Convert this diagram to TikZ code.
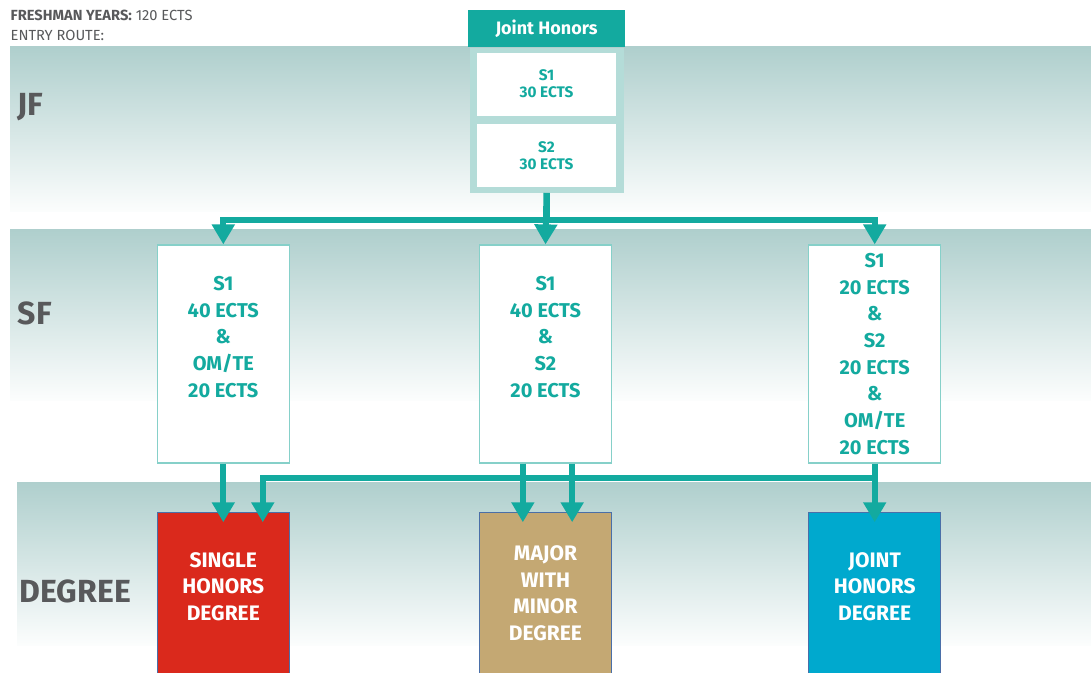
\documentclass[tikz,border=0pt]{standalone}
\usepackage{fontspec}
\setmainfont{Fira Sans}
\usepackage{tikz}
\usepackage{xcolor}
\usetikzlibrary{positioning,arrows.meta}
\definecolor{verde}{HTML}{13AA9F}
\definecolor{verdeclaro}{HTML}{B4DCD8}
\definecolor{borda}{HTML}{86D0C9}
\definecolor{faixa}{HTML}{AFCFCD}
\definecolor{cinza}{HTML}{58595B}
\definecolor{vermelho}{HTML}{DA291C}
\definecolor{areia}{HTML}{C4A873}
\definecolor{azul}{HTML}{00A9CE}
\definecolor{contorno}{HTML}{4A6FA8}
\tikzstyle{cabecalho} = [rectangle, minimum width=117.75pt, minimum height=27.75pt, text centered, fill=verde, text=white, font=\fontsize{13.5}{16}\selectfont\bfseries]
\tikzstyle{moldura} = [rectangle, minimum width=115.5pt, minimum height=108.75pt, fill=verdeclaro]
\tikzstyle{semestre} = [rectangle, minimum width=104.25pt, minimum height=47.25pt, align=center, fill=white, text=verde, font=\fontsize{11.5}{12.75}\selectfont\bfseries]
\tikzstyle{caixa} = [rectangle, minimum width=99pt, minimum height=163.5pt, align=center, draw=borda, line width=0.9pt, fill=white, text=verde, font=\fontsize{15}{20}\selectfont\bfseries]
\tikzstyle{grau} = [rectangle, minimum width=99pt, minimum height=121.5pt, align=center, draw=contorno, line width=0.6pt, text=white, font=\fontsize{15.75}{19.9}\selectfont\bfseries]
\tikzstyle{rotulo} = [anchor=west, text=cinza, font=\fontsize{24}{28}\selectfont\bfseries]
\tikzstyle{topo} = [anchor=west, text=cinza, font=\fontsize{11}{13}\selectfont]
\tikzstyle{linha} = [line width=4.5pt, draw=verde]
\tikzstyle{seta} = [linha, -{Triangle[width=16.5pt,length=15pt]}]
\tikzstyle{setagrau} = [seta, shorten >=-8pt]

\begin{document}
\begin{tikzpicture}[x=0.75pt, y=-0.75pt, node distance=36pt]
        % Fundo e faixas
        \fill[white] (0,0) rectangle (1091,673);
        \useasboundingbox (0,0) rectangle (1091,673);
        \shade[top color=faixa, bottom color=white!96!faixa] (10,47) rectangle (1091,212);
        \shade[top color=faixa, bottom color=white!96!faixa] (10,230) rectangle (1091,400);
        \shade[top color=faixa, bottom color=white!96!faixa] (17,482) rectangle (1091,645);
        % Textos do topo e rótulos das faixas
        \node (freshman) [topo] at (6,15) {\textbf{FRESHMAN YEARS:} 120 ECTS};
        \node (entrada) [topo] at (6,35) {ENTRY ROUTE:};
        \node (jf) [rotulo] at (13,107) {JF};
        \node (sf) [rotulo] at (13,313) {SF};
        \node (degree) [rotulo] at (15,591) {DEGREE};
        % Nó principal
        \node (joint) [cabecalho] at (546.5,28.5) {Joint Honors};
        \node (moldura) [moldura, below=0pt of joint] {};
        \node (s1) [semestre, below=3.75pt of joint] {S1\\30 ECTS};
        \node (s2) [semestre, below=6pt of s1] {S2\\30 ECTS};
        % Caixas SF
        \node (sfmeio) [caixa] at (545.5,354) {S1\\40 ECTS\\\&\\S2\\20 ECTS\\[6pt]~};
        \node (sfesq) [caixa, left=141.75pt of sfmeio] {S1\\40 ECTS\\\&\\OM/TE\\20 ECTS\\[6pt]~};
        \node (sfdir) [caixa, right=147pt of sfmeio] {S1\\20 ECTS\\\&\\S2\\20 ECTS\\\&\\OM/TE\\20 ECTS};
        % Graus
        \node (single) [grau, fill=vermelho, below=of sfesq] {SINGLE\\HONORS\\DEGREE\\[-10pt]~};
        \node (major) [grau, fill=areia, below=of sfmeio] {MAJOR\\WITH\\MINOR\\DEGREE};
        \node (jointdeg) [grau, fill=azul, below=of sfdir] {JOINT\\HONORS\\DEGREE\\[-10pt]~};
        % Conexões JF para SF
        \draw [seta] (moldura.south) -- ++(0,27) -| (sfesq.north);
        \draw [seta] (moldura.south) -- ++(0,27) -| (sfdir.north);
        \draw [seta] (moldura.south) -- (sfmeio.north);
        % Conexões SF para graus
        \draw [setagrau] (sfesq.south) -- (single.north);
        \draw [setagrau] ([xshift=-17pt]sfmeio.south) -- ++(0,14) -| ([xshift=29.6pt]single.north);
        \draw [linha] (sfdir.south) |- ([xshift=-17pt,yshift=-10.5pt]sfmeio.south);
        \draw [setagrau] ([xshift=-17pt]sfmeio.south) -- ([xshift=-17pt]major.north);
        \draw [setagrau] ([xshift=20pt]sfmeio.south) -- ([xshift=20pt]major.north);
        \draw [setagrau] (sfdir.south) -- (jointdeg.north);
    \end{tikzpicture}
\end{document}
